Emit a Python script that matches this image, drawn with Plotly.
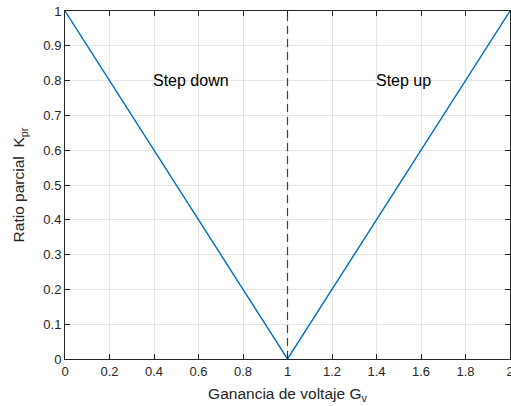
import plotly.graph_objects as go

x_vals = [0, 1, 2]
y_vals = [1, 0, 1]
vline_x = [1, 1]
vline_y = [0, 1]
x_ticks = [0, 0.2, 0.4, 0.6, 0.8, 1, 1.2, 1.4, 1.6, 1.8, 2]
x_tick_labels = ["0", "0.2", "0.4", "0.6", "0.8", "1", "1.2", "1.4", "1.6", "1.8", "2"]
y_ticks = [0, 0.1, 0.2, 0.3, 0.4, 0.5, 0.6, 0.7, 0.8, 0.9, 1]
y_tick_labels = ["0", "0.1", "0.2", "0.3", "0.4", "0.5", "0.6", "0.7", "0.8", "0.9", "1"]
labels = ["Step down", "Step up"]
label_x = [0.4, 1.4]
label_y = [0.8, 0.8]

FONT = "Liberation Sans, Arial, sans-serif"

fig = go.Figure()
fig.add_trace(go.Scatter(x=vline_x, y=vline_y, mode="lines",
                         line=dict(color="#404040", width=1.2, dash="8px,5px"),
                         showlegend=False, hoverinfo="skip"))
fig.add_trace(go.Scatter(x=x_vals, y=y_vals, mode="lines",
                         line=dict(color="#0072BD", width=1.4),
                         showlegend=False))

for t, xx, yy in zip(labels, label_x, label_y):
    fig.add_annotation(x=xx, y=yy, text=t, showarrow=False, xanchor="left",
                       yanchor="middle", xshift=-3,
                       font=dict(family=FONT, size=16, color="#000000"))

axis_common = dict(showline=True, linecolor="#262626", linewidth=1, mirror="ticks",
                   ticks="inside", ticklen=5, tickcolor="#262626",
                   showgrid=True, gridcolor="#e5e5e5", gridwidth=1, zeroline=False,
                   ticklabeloverflow="allow", automargin=False,
                   tickfont=dict(family=FONT, size=13, color="#262626"))

fig.update_xaxes(range=[0, 2], tickvals=x_ticks, ticktext=x_tick_labels,
                 title=dict(text="Ganancia de voltaje G<sub>v</sub>", standoff=10,
                            font=dict(family=FONT, size=15.5, color="#262626")),
                 **axis_common)
fig.update_yaxes(range=[0, 1], tickvals=y_ticks, ticktext=y_tick_labels,
                 title=dict(text="Ratio parcial  K<sub>pr</sub>", standoff=14,
                            font=dict(family=FONT, size=15.5, color="#262626")),
                 **axis_common)

fig.update_layout(width=511, height=406,
                  margin=dict(l=65, r=1, t=11, b=47, autoexpand=False),
                  plot_bgcolor="white", paper_bgcolor="white",
                  font=dict(family=FONT))

fig.write_html("out.html")
